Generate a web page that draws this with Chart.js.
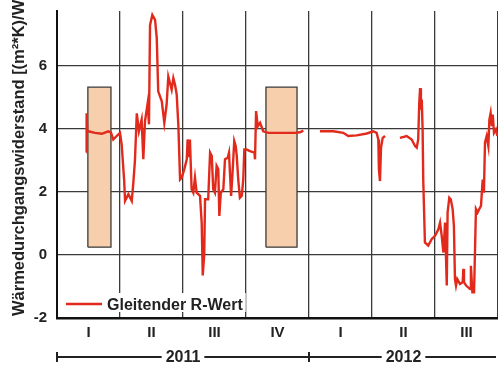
<!DOCTYPE html>
<html>
<head>
<meta charset="utf-8">
<script src="https://cdn.jsdelivr.net/npm/chart.js@4/dist/chart.umd.min.js"></script>
<style>
  html, body { margin: 0; padding: 0; background: #fff; }
  #wrap { width: 498px; height: 365px; position: relative; }
</style>
</head>
<body>
<div id="wrap"><canvas id="chart"></canvas></div>
<script>
// ── Data (x in months since 1 Jan 2011) ─────────────────
const rwMonths = [
  1.40, 1.41, 1.44, 1.49, 1.81, 2.13, 2.44, 2.57, 2.68, 2.84, 3.00, 3.08, 3.20, 3.24, 3.40, 3.56,
  3.63, 3.71, 3.80, 3.90, 4.03, 4.11, 4.19, 4.32, 4.38, 4.43, 4.54, 4.67, 4.75, 4.82, 4.99, 5.11,
  5.22, 5.30, 5.46, 5.54, 5.62, 5.70, 5.78, 5.86, 5.94, 6.06, 6.18, 6.22, 6.29, 6.33, 6.41, 6.49,
  6.57, 6.65, 6.81, 6.89, 6.94, 7.01, 7.05, 7.20, 7.29, 7.37, 7.44, 7.52, 7.60, 7.68, 7.73, 7.80,
  7.92, 8.00, 8.13, 8.19, 8.29, 8.35, 8.44, 8.51, 8.56, 8.63, 8.71, 8.80, 8.87, 8.92, 9.03, 9.19,
  9.40, 9.43, 9.48, 9.56, 9.67, 9.82, 10.06, 10.38, 10.86, 11.33, 11.57, 11.73,
  12.10,
  12.52, 13.16, 13.63, 13.87, 14.27, 14.75, 15.06, 15.22, 15.30, 15.33, 15.38, 15.43, 15.51, 15.62,
  16.00,
  16.33, 16.65, 16.89, 17.05, 17.13, 17.20, 17.25, 17.29, 17.33, 17.37, 17.41, 17.44, 17.52, 17.68,
  17.84, 18.00, 18.16, 18.24, 18.32, 18.40, 18.48, 18.56, 18.60, 18.68, 18.75, 18.84, 18.90, 18.95,
  19.00, 19.06, 19.19, 19.32, 19.35, 19.38, 19.48, 19.67, 19.71, 19.78, 19.86, 19.95, 20.03, 20.11,
  20.19, 20.27, 20.33, 20.38, 20.46, 20.54, 20.59, 20.65, 20.71, 20.75, 20.81, 20.90, 20.97
];
const rwValues = [
  3.26, 4.50, 3.93, 3.93, 3.88, 3.85, 3.93, 3.89, 3.67, 3.78, 3.88, 3.51, 2.35, 1.72, 1.93, 1.72,
  2.25, 2.98, 4.50, 3.93, 4.30, 3.04, 4.25, 4.83, 4.15, 7.30, 7.63, 7.47, 6.89, 5.20, 4.88, 4.20,
  4.78, 5.67, 5.25, 5.62, 5.41, 5.10, 4.10, 2.40, 2.46, 2.72, 3.04, 3.67, 3.14, 3.67, 2.09, 1.98,
  2.46, 1.98, 1.88, 1.03, -0.65, 0.00, 1.77, 1.77, 3.25, 3.14, 2.09, 1.98, 2.83, 2.72, 1.24, 1.98,
  2.09, 3.04, 3.09, 3.25, 1.88, 2.51, 3.62, 3.46, 3.14, 2.40, 1.82, 1.88, 2.40, 3.35, 3.35, 3.30,
  3.25, 3.04, 4.57, 4.09, 4.20, 3.93, 3.88, 3.88, 3.88, 3.88, 3.90, 3.95,
  null,
  3.93, 3.93, 3.88, 3.78, 3.80, 3.86, 3.93, 3.88, 3.67, 2.72, 2.35, 3.41, 3.72, 3.78,
  null,
  3.72, 3.78, 3.67, 3.46, 3.41, 3.67, 4.83, 5.30, 4.62, 4.94, 3.99, 2.40, 0.40, 0.30,
  0.50, 0.61, 0.82, 1.03, 0.61, 0.08, 1.03, -0.97, 1.35, 1.82, 1.77, 1.46, 0.93, -0.76,
  -0.97, -0.76, -0.92, -0.86, -0.44, -0.86, -0.97, -1.08, -0.34, -1.18, -1.18, 1.46, 1.35, 1.46,
  1.56, 2.40, 1.98, 3.57, 3.78, 3.46, 4.30, 4.51, 4.09, 4.46, 3.88, 3.99, 3.78
];

// highlighted periods (orange boxes)
const boxStart = [1.47, 9.95];
const boxEnd   = [2.57, 11.43];
const boxLow   = [0.25, 0.25];
const boxHigh  = [5.33, 5.33];

const quarterLabels = ['I', 'II', 'III', 'IV', 'I', 'II', 'III'];
const yTicks = [-2, 0, 2, 4, 6];
const years = ['2011', '2012'];
const yearStart = [0, 12];
const yearEnd = [12, 21];

const SERIES_LABEL = 'Gleitender R-Wert';
const Y_TITLE = 'Wärmedurchgangswiderstand [(m²*K)/W]';
const RED = '#E22A1C';
const FONT = '"Liberation Sans", Arial, sans-serif';

// ── Datasets ─────────────────────────────────────────────
const lineData = rwMonths.map((m, i) => ({ x: m, y: rwValues[i] }));

const boxSets = boxStart.map((x0, i) => ({
  label: 'box' + i,
  data: [
    { x: x0, y: boxLow[i] }, { x: x0, y: boxHigh[i] },
    { x: boxEnd[i], y: boxHigh[i] }, { x: boxEnd[i], y: boxLow[i] },
    { x: x0, y: boxLow[i] },
  ],
  borderColor: '#3a3a3a',
  borderWidth: 1.3,
  backgroundColor: '#F8CFAC',
  fill: 'shape',
  pointRadius: 0,
  tension: 0,
}));

// ── Extra drawing: y title, legend, year row ────────────
const decorPlugin = {
  id: 'decor',
  afterDraw(chart) {
    const ctx = chart.ctx;
    const xs = chart.scales.x;
    const area = chart.chartArea;

    // y title (runs off the top like in the original)
    ctx.save();
    ctx.translate(19, 316);
    ctx.rotate(-Math.PI / 2);
    ctx.font = 'bold 16.5px ' + FONT;
    ctx.fillStyle = '#222';
    ctx.textAlign = 'left';
    ctx.textBaseline = 'middle';
    ctx.fillText(Y_TITLE, 0, 0);
    ctx.restore();

    // legend in lower left
    ctx.save();
    ctx.font = 'bold 16px ' + FONT;
    const lx = area.left + 3;
    const ly = area.bottom - 25;
    const tw = ctx.measureText(SERIES_LABEL).width;
    ctx.fillStyle = '#fff';
    ctx.fillRect(lx, ly, 50 + tw, 19);
    ctx.strokeStyle = RED;
    ctx.lineWidth = 2.5;
    ctx.beginPath();
    ctx.moveTo(lx + 6, ly + 11);
    ctx.lineTo(lx + 42, ly + 11);
    ctx.stroke();
    ctx.fillStyle = '#222';
    ctx.textBaseline = 'alphabetic';
    ctx.fillText(SERIES_LABEL, lx + 47, ly + 17);
    ctx.restore();

    // year row
    ctx.save();
    const yy = 357;
    ctx.font = 'bold 16px ' + FONT;
    ctx.fillStyle = '#222';
    ctx.strokeStyle = '#222';
    ctx.lineWidth = 2;
    ctx.textAlign = 'center';
    ctx.textBaseline = 'middle';
    years.forEach((yr, i) => {
      const x0 = xs.getPixelForValue(yearStart[i]);
      const x1 = Math.min(xs.getPixelForValue(yearEnd[i]), chart.width - 2);
      const xc = (xs.getPixelForValue(yearStart[i]) + xs.getPixelForValue(yearEnd[i])) / 2;
      const half = ctx.measureText(yr).width / 2 + 4;
      ctx.beginPath();
      ctx.moveTo(x0, yy); ctx.lineTo(xc - half, yy);
      ctx.moveTo(xc + half, yy); ctx.lineTo(x1, yy);
      ctx.moveTo(x0, yy - 5); ctx.lineTo(x0, yy + 5);
      ctx.stroke();
      ctx.fillText(yr, xc, yy + 1);
    });
    ctx.restore();
  },
};

new Chart(document.getElementById('chart'), {
  type: 'line',
  data: {
    datasets: [
      {
        label: SERIES_LABEL,
        data: lineData,
        borderColor: RED,
        borderWidth: 2.4,
        pointRadius: 0,
        tension: 0,
        fill: false,
        spanGaps: false,
      },
      ...boxSets,
    ],
  },
  options: {
    responsive: true,
    maintainAspectRatio: false,
    animation: false,
    layout: { padding: { top: 11, left: 0, right: 0, bottom: 0 } },
    plugins: { legend: { display: false }, tooltip: { enabled: false } },
    scales: {
      x: {
        type: 'linear',
        min: 0, max: 21,
        afterBuildTicks: (s) => {
          const t = [];
          for (let v = 0; v <= 21; v += 1.5) t.push({ value: v });
          s.ticks = t;
        },
        afterFit: (s) => {
          s.height = 47;
          s.paddingLeft = 0;
          s.paddingRight = 0;
        },
        ticks: {
          autoSkip: false,
          maxRotation: 0,
          padding: 6,
          color: '#222',
          font: { size: 15, weight: 'bold', family: FONT },
          callback: (v) => {
            if (v % 3 === 0) return '';
            return quarterLabels[Math.floor(v / 3)] || '';
          },
        },
        grid: {
          drawTicks: false,
          color: (c) => (c.tick && c.tick.value % 3 === 0 ? '#3a3a3a' : 'rgba(0,0,0,0)'),
          lineWidth: 1.3,
        },
        border: { color: '#111', width: 2.5 },
      },
      y: {
        min: -2, max: 7.75,
        afterBuildTicks: (s) => { s.ticks = yTicks.map(v => ({ value: v })); },
        afterFit: (s) => {
          s.width = 57;
          s.paddingTop = 0;
          s.paddingBottom = 0;
        },
        ticks: {
          padding: 10,
          color: '#222',
          font: { size: 15, weight: 'bold', family: FONT },
        },
        grid: { drawTicks: false, color: '#3a3a3a', lineWidth: 1.3 },
        border: { color: '#111', width: 2 },
      },
    },
  },
  plugins: [decorPlugin],
});
</script>
</body>
</html>
